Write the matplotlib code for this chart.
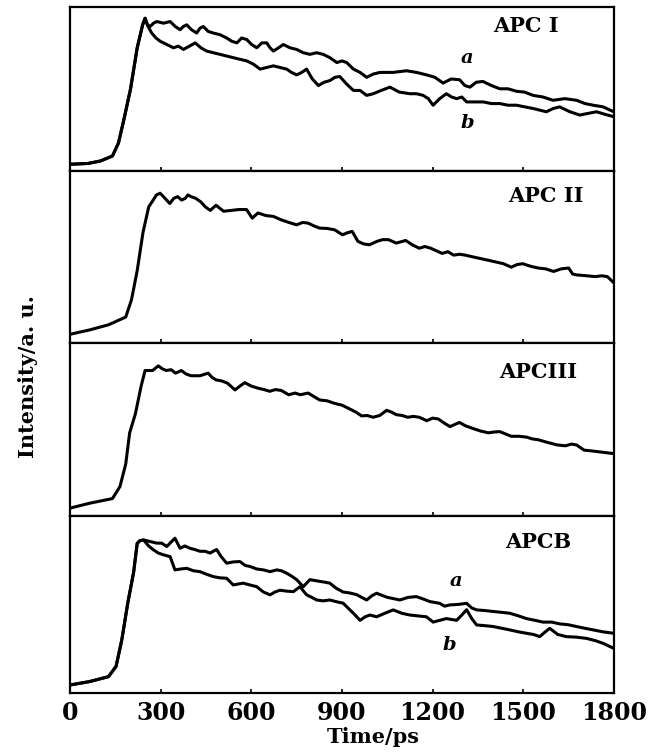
import matplotlib.pyplot as plt

# time (ps) and normalised intensity
rise1_t = [0, 60, 100, 140, 160, 180, 200, 222, 240, 248]
rise1_y = [0.04, 0.045, 0.06, 0.09, 0.17, 0.33, 0.50, 0.75, 0.89, 0.93]

apc1_a_t = rise1_t + [256, 265, 276, 287, 309, 331, 348, 364, 375, 386, 402, 419, 430, 441, 457, 474,
                      496, 518, 535, 552, 568, 585, 601, 618, 635, 651, 662, 673, 690, 706, 728,
                      750, 772, 794, 816, 838, 860, 883, 900, 916, 938, 960, 982, 1004, 1026, 1070,
                      1114, 1147, 1180, 1208, 1235, 1262, 1290, 1307, 1324, 1345, 1367, 1395, 1423,
                      1450, 1478, 1505, 1533, 1566, 1599, 1638, 1677, 1705, 1732, 1765, 1800]
apc1_a_y = rise1_y + [0.89, 0.88, 0.90, 0.91, 0.90, 0.91, 0.88, 0.86, 0.88, 0.89, 0.86, 0.84, 0.87, 0.88, 0.85, 0.84,
                      0.83, 0.81, 0.79, 0.78, 0.81, 0.80, 0.77, 0.75, 0.78, 0.78, 0.75, 0.73, 0.75, 0.77, 0.75,
                      0.74, 0.72, 0.71, 0.72, 0.71, 0.69, 0.66, 0.67, 0.66, 0.62, 0.60, 0.57, 0.59, 0.60, 0.60,
                      0.61, 0.60, 0.585, 0.57, 0.535, 0.56, 0.555, 0.52, 0.51, 0.54, 0.545, 0.52, 0.50,
                      0.50, 0.485, 0.48, 0.46, 0.45, 0.43, 0.44, 0.43, 0.41, 0.40, 0.39, 0.36]

apc1_b_t = rise1_t + [258, 270, 284, 298, 320, 342, 358, 375, 395, 414, 433, 452, 474, 496, 518, 540,
                      562, 585, 607, 629, 651, 673, 695, 717, 733, 750, 767, 783, 802, 822, 841, 860,
                      877, 893, 915, 938, 960, 982, 1004, 1030, 1059, 1090, 1125, 1147, 1169, 1186, 1202,
                      1224, 1246, 1263, 1280, 1297, 1313, 1340, 1368, 1395, 1423, 1450, 1478, 1505,
                      1533, 1555, 1577, 1600, 1621, 1655, 1688, 1715, 1743, 1770, 1800]
apc1_b_y = rise1_y + [0.88, 0.84, 0.81, 0.79, 0.77, 0.75, 0.76, 0.74, 0.76, 0.78, 0.75, 0.73, 0.72, 0.71, 0.70, 0.69,
                      0.68, 0.67, 0.65, 0.62, 0.63, 0.64, 0.63, 0.62, 0.60, 0.585, 0.60, 0.62, 0.56, 0.52, 0.54, 0.55,
                      0.57, 0.575, 0.53, 0.49, 0.49, 0.46, 0.47, 0.49, 0.51, 0.48, 0.47, 0.47, 0.46, 0.44, 0.40,
                      0.44, 0.47, 0.45, 0.44, 0.45, 0.42, 0.42, 0.42, 0.41, 0.41, 0.40, 0.40, 0.39,
                      0.38, 0.37, 0.36, 0.38, 0.39, 0.36, 0.34, 0.35, 0.36, 0.345, 0.33]

apc2_t = [0, 64, 127, 184, 203, 222, 241, 260, 286, 298, 314, 330, 343, 356, 369, 381, 390, 400, 416, 432,
          448, 464, 483, 508, 534, 559, 584, 603, 622, 648, 673, 699, 724, 750, 770, 788, 807, 826, 851, 876,
          902, 918, 934, 953, 972, 991, 1016, 1035, 1054, 1080, 1111, 1133, 1156, 1175, 1194, 1213, 1232,
          1251, 1270, 1290, 1308, 1333, 1359, 1385, 1410, 1435, 1461, 1480, 1499, 1525, 1550, 1575, 1601,
          1626, 1651, 1664, 1677, 1710, 1740, 1760, 1779, 1800]
apc2_y = [0.05, 0.075, 0.105, 0.15, 0.25, 0.42, 0.64, 0.79, 0.86, 0.87, 0.84, 0.81, 0.84, 0.85, 0.83, 0.84, 0.86,
          0.85, 0.84, 0.82, 0.79, 0.77, 0.80, 0.765, 0.77, 0.775, 0.775, 0.725, 0.755, 0.74, 0.735, 0.715, 0.70,
          0.686, 0.70, 0.696, 0.68, 0.667, 0.665, 0.657, 0.628, 0.64, 0.648, 0.59, 0.575, 0.57, 0.59, 0.60,
          0.60, 0.58, 0.595, 0.57, 0.55, 0.56, 0.55, 0.535, 0.52, 0.53, 0.51, 0.515, 0.51, 0.50, 0.49, 0.48,
          0.47, 0.46, 0.44, 0.455, 0.46, 0.445, 0.435, 0.43, 0.415, 0.43, 0.435, 0.40, 0.395, 0.39, 0.385,
          0.39, 0.385, 0.35]

apc3_t = [0, 64, 140, 165, 184, 197, 216, 235, 248, 273, 292, 305, 318, 334, 349, 368, 384, 400, 430, 457,
          470, 483, 502, 521, 546, 562, 578, 600, 622, 642, 661, 680, 699, 724, 745, 762, 788, 807, 826, 851,
          876, 900, 927, 946, 965, 984, 1003, 1025, 1048, 1064, 1080, 1100, 1118, 1137, 1156, 1181, 1200, 1219,
          1240, 1258, 1289, 1310, 1334, 1360, 1385, 1405, 1423, 1461, 1487, 1512, 1530, 1550, 1580, 1613,
          1640, 1660, 1677, 1702, 1730, 1753, 1800]
apc3_y = [0.045, 0.073, 0.10, 0.17, 0.30, 0.48, 0.59, 0.75, 0.84, 0.84, 0.867, 0.85, 0.84, 0.845, 0.825, 0.84,
          0.82, 0.81, 0.81, 0.825, 0.80, 0.786, 0.78, 0.767, 0.728, 0.75, 0.77, 0.75, 0.738, 0.73, 0.72, 0.73,
          0.725, 0.70, 0.71, 0.70, 0.71, 0.69, 0.67, 0.665, 0.65, 0.64, 0.617, 0.60, 0.578, 0.58, 0.57, 0.58,
          0.61, 0.60, 0.585, 0.58, 0.57, 0.575, 0.57, 0.55, 0.565, 0.56, 0.535, 0.516, 0.54, 0.52, 0.505,
          0.49, 0.48, 0.485, 0.487, 0.46, 0.46, 0.455, 0.445, 0.44, 0.425, 0.41, 0.405, 0.415, 0.41, 0.38,
          0.375, 0.37, 0.36]

rise4_t = [0, 64, 127, 152, 171, 191, 210, 222, 231, 243]
rise4_y = [0.045, 0.064, 0.092, 0.15, 0.30, 0.51, 0.68, 0.845, 0.86, 0.864]

apcb_a_t = rise4_t + [265, 287, 303, 320, 333, 347, 364, 380, 397, 413, 430, 447, 463, 485, 500, 518, 540,
                      562, 580, 596, 618, 640, 662, 684, 700, 717, 733, 750, 772, 794, 810, 827, 845,
                      860, 882, 904, 925, 949, 965, 982, 1000, 1015, 1050, 1092, 1120, 1147, 1170, 1191,
                      1224, 1240, 1257, 1285, 1313, 1330, 1346, 1375, 1401, 1430, 1456, 1485, 1511,
                      1540, 1566, 1595, 1621, 1650, 1677, 1705, 1732, 1765, 1800]
apcb_a_y = rise4_y + [0.855, 0.846, 0.846, 0.827, 0.85, 0.874, 0.817, 0.83, 0.817, 0.81, 0.80, 0.80, 0.79, 0.81,
                      0.77, 0.733, 0.74, 0.742, 0.72, 0.714, 0.70, 0.695, 0.685, 0.695, 0.69, 0.676, 0.66,
                      0.64, 0.60, 0.64, 0.635, 0.63, 0.625, 0.62, 0.59, 0.57, 0.565, 0.555, 0.54, 0.525,
                      0.55, 0.563, 0.54, 0.525, 0.54, 0.544, 0.53, 0.516, 0.506, 0.49, 0.497, 0.50, 0.506,
                      0.48, 0.469, 0.465, 0.46, 0.455, 0.45, 0.435, 0.42, 0.41, 0.40, 0.40, 0.39, 0.385,
                      0.375, 0.365, 0.356, 0.345, 0.337]

apcb_b_t = rise4_t + [260, 276, 292, 309, 331, 347, 366, 386, 408, 430, 452, 474, 496, 518, 540, 556, 573,
                      595, 618, 640, 662, 678, 695, 717, 739, 761, 783, 800, 816, 838, 860, 882, 904, 920,
                      938, 960, 977, 993, 1015, 1042, 1070, 1098, 1125, 1152, 1180, 1202, 1224, 1246,
                      1263, 1280, 1297, 1313, 1330, 1346, 1373, 1401, 1430, 1456, 1485, 1511, 1535,
                      1555, 1570, 1588, 1615, 1643, 1677, 1710, 1740, 1765, 1800]
apcb_b_y = rise4_y + [0.83, 0.808, 0.79, 0.78, 0.77, 0.695, 0.70, 0.704, 0.69, 0.685, 0.67, 0.657, 0.65, 0.648,
                      0.61, 0.615, 0.62, 0.61, 0.60, 0.57, 0.554, 0.57, 0.58, 0.575, 0.572, 0.60, 0.554,
                      0.54, 0.525, 0.52, 0.525, 0.515, 0.507, 0.48, 0.45, 0.41, 0.43, 0.44, 0.43, 0.45,
                      0.469, 0.45, 0.44, 0.435, 0.43, 0.40, 0.41, 0.42, 0.415, 0.41, 0.44, 0.47, 0.42,
                      0.384, 0.38, 0.375, 0.365, 0.356, 0.345, 0.337, 0.33, 0.318, 0.34, 0.365, 0.33,
                      0.318, 0.315, 0.308, 0.295, 0.28, 0.252]

panel_names = ['APC I', 'APC II', 'APCIII', 'APCB']
x_ticks = [0, 300, 600, 900, 1200, 1500, 1800]

serif = ['DejaVu Serif']
lw = 2.2

fig, axes = plt.subplots(4, 1, figsize=(6.62, 7.54), dpi=100, sharex=True,
                         gridspec_kw={'height_ratios': [164, 172, 173, 177], 'hspace': 0})
fig.subplots_adjust(left=0.106, right=0.927, top=0.991, bottom=0.081)

curves = [
    [(apc1_a_t, apc1_a_y), (apc1_b_t, apc1_b_y)],
    [(apc2_t, apc2_y)],
    [(apc3_t, apc3_y)],
    [(apcb_a_t, apcb_a_y), (apcb_b_t, apcb_b_y)],
]
name_pos = [(0.778, 0.88), (0.805, 0.855), (0.79, 0.83), (0.80, 0.85)]

for ax, lines, name, pos in zip(axes, curves, panel_names, name_pos):
    for t, y in lines:
        ax.plot(t, y, color='black', lw=lw, solid_joinstyle='round')
    ax.set_xlim(0, 1800)
    ax.set_ylim(0, 1)
    ax.set_yticks([])
    for s in ax.spines.values():
        s.set_linewidth(1.6)
    ax.tick_params(axis='x', direction='in', length=3, width=1.2)
    ax.text(pos[0], pos[1], name, transform=ax.transAxes, fontsize=15,
            fontweight='bold', family=serif, va='center', ha='left')

# curve labels
lab = dict(fontsize=14, style='italic', fontweight='bold', family=serif, ha='center', va='center')
axes[0].text(1314, 0.69, 'a', **lab)
axes[0].text(1314, 0.29, 'b', **lab)
axes[3].text(1277, 0.63, 'a', **lab)
axes[3].text(1257, 0.27, 'b', **lab)

axes[3].set_xticks(x_ticks)
axes[3].set_xticklabels([str(v) for v in x_ticks], fontsize=17, fontweight='bold', family=serif)
axes[3].tick_params(axis='x', pad=6)
axes[3].set_xlabel('Time/ps', fontsize=15, fontweight='bold', family=serif)
axes[3].xaxis.set_label_coords(0.557, -0.19)

fig.text(0.042, 0.5, 'Intensity/a. u.', rotation=90, fontsize=15, fontweight='bold',
         family=serif, ha='center', va='center')

fig.savefig('out.png', dpi=100)
